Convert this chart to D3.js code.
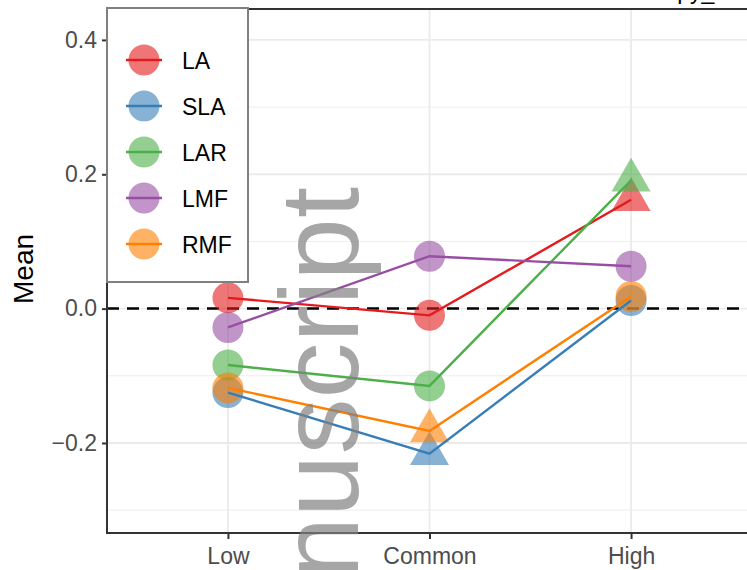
<!DOCTYPE html>
<html>
<head>
<meta charset="utf-8">
<script src="https://cdn.jsdelivr.net/npm/d3@7"></script>
<style>
  body { margin: 0; background: #fff; }
  svg { display: block; font-family: "Liberation Sans", Arial, sans-serif; }
</style>
</head>
<body>
<svg width="747" height="570"></svg>
<script>
// data
const levels = ["Low", "Common", "High"];
const traits = ["LA", "SLA", "LAR", "LMF", "RMF"];
const colours = ["#E41A1C", "#377EB8", "#4DAF4A", "#984EA3", "#FF7F00"];
const laMean  = [0.016, -0.010, 0.162];
const slaMean = [-0.125, -0.216, 0.012];
const larMean = [-0.084, -0.115, 0.191];
const lmfMean = [-0.028, 0.078, 0.063];
const rmfMean = [-0.118, -0.182, 0.018];
// true = triangle marker
const laTri  = [false, false, true];
const slaTri = [false, true, false];
const larTri = [false, false, true];
const lmfTri = [false, false, false];
const rmfTri = [false, true, false];
const majorTicks = [-0.2, 0.0, 0.2, 0.4];
const minorTicks = [-0.3, -0.1, 0.1, 0.3];

const allMeans = [laMean, slaMean, larMean, lmfMean, rmfMean];
const allTri = [laTri, slaTri, larTri, lmfTri, rmfTri];

const series = traits.map((t, i) => ({
    name: t,
    colour: colours[i],
    values: levels.map((lv, j) => ({ level: lv, mean: allMeans[i][j], tri: allTri[i][j] }))
}));

const svg = d3.select('svg');

const panel = { left: 107, right: 752, top: 9, bottom: 533 };

const xScale = d3.scalePoint()
    .domain(levels)
    .range([panel.left, panel.right])
    .padding(0.6);

const yScale = d3.scaleLinear()
    .domain([-0.334, 0.446])
    .range([panel.bottom, panel.top]);

// top-right title, mostly cut off
svg.append('text')
    .attr('x', 727)
    .attr('y', -1)
    .attr('text-anchor', 'end')
    .style('font-size', '23px')
    .style('fill', '#000')
    .text('Canopy_0');

const grid = svg.append('g');

grid.selectAll('.minor').data(minorTicks).enter()
    .append('line')
    .attr('x1', panel.left).attr('x2', panel.right)
    .attr('y1', d => yScale(d)).attr('y2', d => yScale(d))
    .attr('stroke', '#ebebeb').attr('stroke-width', 0.9);

grid.selectAll('.major').data(majorTicks).enter()
    .append('line')
    .attr('x1', panel.left).attr('x2', panel.right)
    .attr('y1', d => yScale(d)).attr('y2', d => yScale(d))
    .attr('stroke', '#ebebeb').attr('stroke-width', 1.8);

grid.selectAll('.vert').data(levels).enter()
    .append('line')
    .attr('x1', d => xScale(d)).attr('x2', d => xScale(d))
    .attr('y1', panel.top).attr('y2', panel.bottom)
    .attr('stroke', '#ebebeb').attr('stroke-width', 1.8);

// zero line
svg.append('line')
    .attr('x1', panel.left).attr('x2', panel.right)
    .attr('y1', yScale(0)).attr('y2', yScale(0))
    .attr('stroke', '#000')
    .attr('stroke-width', 2.5)
    .attr('stroke-dasharray', '12,8');

// points
const triangle = d3.symbol().type(d3.symbolTriangle).size(660);

series.forEach(s => {
    const g = svg.append('g');
    g.selectAll('circle').data(s.values.filter(v => !v.tri)).enter()
        .append('circle')
        .attr('cx', d => xScale(d.level))
        .attr('cy', d => yScale(d.mean))
        .attr('r', 15.5)
        .attr('fill', s.colour)
        .attr('fill-opacity', 0.6);
    g.selectAll('path').data(s.values.filter(v => v.tri)).enter()
        .append('path')
        .attr('d', triangle)
        .attr('transform', d => 'translate(' + xScale(d.level) + ',' + yScale(d.mean) + ')')
        .attr('fill', s.colour)
        .attr('fill-opacity', 0.6);
});

// lines
const line = d3.line()
    .x(d => xScale(d.level))
    .y(d => yScale(d.mean));

series.forEach(s => {
    svg.append('path')
        .datum(s.values)
        .attr('d', line)
        .attr('fill', 'none')
        .attr('stroke', s.colour)
        .attr('stroke-width', 2.4);
});

// axes
const yAxis = d3.axisLeft(yScale)
    .tickValues(majorTicks)
    .tickSize(5)
    .tickPadding(5)
    .tickFormat(d => d3.format('.1f')(d).replace('-', '\u2212'));

const yg = svg.append('g')
    .attr('transform', 'translate(' + panel.left + ',0)')
    .call(yAxis);
yg.select('.domain').remove();
yg.selectAll('line').attr('stroke', '#333').attr('stroke-width', 2);
yg.selectAll('text').style('font-size', '23px').style('fill', '#4d4d4d').style('font-family', 'Liberation Sans, Arial, sans-serif');

const xAxis = d3.axisBottom(xScale)
    .tickSize(6)
    .tickPadding(9);

const xg = svg.append('g')
    .attr('transform', 'translate(0,' + panel.bottom + ')')
    .call(xAxis);
xg.select('.domain').remove();
xg.selectAll('line').attr('stroke', '#333').attr('stroke-width', 2);
xg.selectAll('text').style('font-size', '23px').style('fill', '#4d4d4d').style('font-family', 'Liberation Sans, Arial, sans-serif');

// panel border
svg.append('rect')
    .attr('x', panel.left)
    .attr('y', panel.top)
    .attr('width', panel.right - panel.left)
    .attr('height', panel.bottom - panel.top)
    .attr('fill', 'none')
    .attr('stroke', '#333')
    .attr('stroke-width', 2);

svg.append('text')
    .attr('transform', 'translate(33,' + 269 + ') rotate(-90)')
    .attr('text-anchor', 'middle')
    .style('font-size', '28px')
    .style('fill', '#000')
    .text('Mean');

// legend
const legend = svg.append('g');
legend.append('rect')
    .attr('x', 107).attr('y', 8)
    .attr('width', 141).attr('height', 274)
    .attr('fill', '#fff')
    .attr('stroke', '#808080')
    .attr('stroke-width', 2);

const keys = legend.selectAll('.key').data(series).enter()
    .append('g')
    .attr('transform', (d, i) => 'translate(144,' + (60 + i * 46) + ')');

keys.append('circle')
    .attr('r', 15.5)
    .attr('fill', d => d.colour)
    .attr('fill-opacity', 0.6);

keys.append('line')
    .attr('x1', -18).attr('x2', 18)
    .attr('stroke', d => d.colour)
    .attr('stroke-width', 2.4);

keys.append('text')
    .attr('x', 38)
    .attr('y', 8.5)
    .style('font-size', '23px')
    .style('fill', '#000')
    .text(d => d.name);

// watermark
svg.append('text')
    .attr('transform', 'translate(358,187) rotate(-90)')
    .attr('text-anchor', 'end')
    .style('font-size', '112px')
    .style('fill', 'rgb(128,128,128)')
    .style('fill-opacity', 0.7)
    .text('manuscript');
</script>
</body>
</html>
